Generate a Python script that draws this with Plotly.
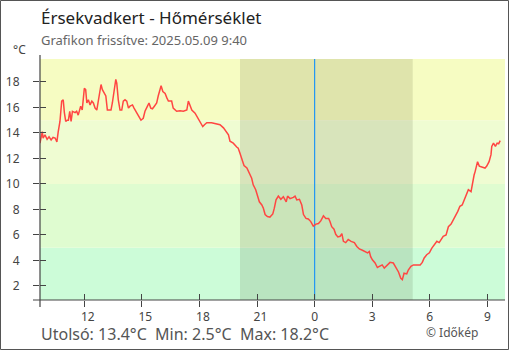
import plotly.graph_objects as go
from datetime import datetime, timedelta

# hours since 2025-05-08 00:00
hours = [9.69, 9.81, 9.85, 9.95, 10.06, 10.16, 10.27, 10.37, 10.48, 10.57, 10.64, 10.73, 10.82, 10.90, 10.96,
         11.03, 11.11, 11.17, 11.24, 11.31, 11.38, 11.52, 11.60, 11.68, 11.81, 11.89, 12.00, 12.07, 12.13,
         12.21, 12.30, 12.39, 12.47, 12.56, 12.65, 12.76, 12.87, 12.94, 13.03, 13.12, 13.20, 13.29, 13.39,
         13.46, 13.55, 13.64, 13.69, 13.77, 13.86, 13.95, 14.03, 14.12, 14.21, 14.30, 14.38, 14.51, 14.59,
         14.69, 14.81, 14.95, 15.07, 15.16, 15.29, 15.37, 15.46, 15.55, 15.65, 15.77, 15.85, 16.00, 16.09,
         16.21, 16.30, 16.38, 16.55, 16.63, 16.81, 16.99, 17.16, 17.34, 17.42, 17.51, 17.60, 17.77, 17.91,
         18.03, 18.17, 18.26, 18.38, 18.63, 18.90, 19.07, 19.25, 19.37, 19.51, 19.59, 19.76, 19.94, 20.02,
         20.11, 20.20, 20.32, 20.47, 20.60, 20.72, 20.80, 20.93, 21.04, 21.12, 21.25, 21.33, 21.42, 21.54,
         21.67, 21.82, 21.90, 21.99, 22.11, 22.24, 22.37, 22.52, 22.59, 22.72, 22.89, 22.98, 23.07, 23.21,
         23.33, 23.42, 23.55, 23.67, 23.80, 23.93, 24.07, 24.20, 24.32, 24.46, 24.58, 24.73, 24.80, 24.89,
         25.01, 25.10, 25.21, 25.33, 25.42, 25.50, 25.62, 25.75, 25.90, 26.07, 26.20, 26.33, 26.49, 26.62,
         26.76, 26.85, 26.92, 27.01, 27.15, 27.27, 27.41, 27.52, 27.63, 27.76, 27.93, 28.10, 28.23, 28.37,
         28.49, 28.57, 28.66, 28.80, 28.88, 29.02, 29.15, 29.50, 29.61, 29.71, 29.84, 29.98, 30.10, 30.24,
         30.37, 30.49, 30.58, 30.70, 30.85, 30.97, 31.11, 31.23, 31.37, 31.46, 31.57, 31.69, 31.80, 31.89,
         32.01, 32.15, 32.22, 32.31, 32.36, 32.42, 32.49, 32.58, 32.71, 32.88, 32.97, 33.09, 33.19, 33.23,
         33.32, 33.42, 33.51, 33.59, 33.67]
temps = [13.2, 14.1, 13.6, 13.85, 13.5, 13.7, 13.45, 13.65, 13.6, 13.3, 14.1, 14.9, 16.5, 16.6, 15.6,
         14.9, 15.0, 15.0, 15.7, 14.9, 15.7, 15.6, 15.7, 15.4, 16.1, 15.8, 17.5, 17.4, 16.35,
         16.6, 16.2, 16.5, 16.35, 15.95, 15.8, 16.9, 17.8, 17.4, 17.1, 16.9, 15.8, 15.8, 15.8,
         16.35, 17.4, 18.2, 17.9, 16.6, 15.8, 15.8, 16.5, 16.6, 16.5, 15.95, 16.1, 16.2, 15.95,
         15.7, 15.4, 15.0, 15.15, 15.7, 16.1, 16.35, 15.95, 15.9, 16.1, 16.35, 16.9, 17.7, 17.25,
         17.1, 16.75, 16.5, 16.5, 15.95, 15.7, 15.75, 15.7, 15.8, 16.5, 16.2, 15.8, 15.55, 15.2,
         14.9, 14.5, 14.65, 14.8, 14.8, 14.7, 14.65, 14.4, 14.1, 13.85, 13.35, 13.2, 12.9, 12.8,
         12.4, 11.9, 11.45, 11.25, 10.85, 10.45, 9.93, 9.55, 9.0, 8.6, 8.35, 8.1, 7.6, 7.45,
         7.4, 7.65, 8.1, 8.75, 9.05, 8.8, 9.0, 8.6, 9.05, 8.85, 8.95, 9.05, 8.75, 8.8,
         8.35, 7.6, 7.3, 7.25, 7.05, 6.7, 6.85, 6.9, 7.1, 7.5, 7.3, 7.3, 7.05, 6.65,
         6.45, 6.05, 5.85, 5.9, 6.1, 5.5, 5.4, 5.65, 5.5, 5.4, 5.1, 4.9, 4.8, 4.7,
         4.6, 4.7, 4.3, 4.05, 3.8, 3.45, 3.55, 3.65, 3.4, 3.6, 3.85, 3.8, 3.5, 3.1,
         2.6, 2.5, 3.0, 2.95, 3.25, 3.55, 3.65, 3.65, 3.85, 4.2, 4.45, 4.6, 4.95, 5.2,
         5.5, 5.4, 5.65, 5.9, 6.0, 6.65, 6.85, 7.25, 7.6, 7.85, 8.25, 8.35, 8.75, 9.15,
         9.55, 9.4, 10.05, 10.7, 10.95, 11.4, 11.75, 11.4, 11.35, 11.25, 11.4, 11.75, 12.3, 12.95,
         13.2, 12.95, 13.2, 13.15, 13.4]

band_edges = [-50, 5, 10, 15, 50]
band_colors = ["#ccfcd8", "#dffcd0", "#effcd2", "#f6fcc2"]
y_ticks = [2, 4, 6, 8, 10, 12, 14, 16, 18]
x_tick_hours = [12, 15, 18, 21, 24, 27, 30, 33]
x_tick_labels = ["\u200712", "\u200715", "\u200718", "\u200721", "0", "3", "6", "9"]
sunset_h, sunrise_h, midnight_h = 20.11, 29.11, 24.0
x_range_h = [9.69, 33.92]
y_range = [0.9, 19.8]

base = datetime(2025, 5, 8)
def t(h):
    return base + timedelta(hours=h)

W, H = 510, 350
L, R, T, B = 40, 5, 59, 50
PW, PH = W - L - R, H - T - B
def px(x):
    return (x - L) / PW
def py(y):
    return (H - B - y) / PH

font = "Noto Sans, Open Sans, DejaVu Sans, sans-serif"
fig = go.Figure()
fig.add_trace(go.Scatter(x=[t(h) for h in hours], y=temps, mode="lines",
                         line=dict(color="#ff4642", width=1.5), hoverinfo="skip", showlegend=False))
# invisible trace for overlay axes
fig.add_trace(go.Scatter(x=[t(h) for h in hours], y=temps, mode="lines", line=dict(width=0),
                         opacity=0, xaxis="x2", yaxis="y2", showlegend=False, hoverinfo="skip"))

shapes = []
for i, c in enumerate(band_colors):
    shapes.append(dict(type="rect", xref="paper", yref="y", x0=0, x1=1,
                       y0=max(band_edges[i], y_range[0]), y1=min(band_edges[i + 1], y_range[1]),
                       fillcolor=c, line=dict(width=0), layer="below"))
shapes.append(dict(type="rect", xref="x", yref="paper", x0=t(sunset_h), x1=t(sunrise_h), y0=0, y1=1,
                   fillcolor="rgba(40,40,0,0.11)", line=dict(width=0), layer="below"))
shapes.append(dict(type="line", xref="x", yref="paper", x0=t(midnight_h), x1=t(midnight_h), y0=0, y1=1,
                   line=dict(color="#2196f3", width=1.2), layer="below"))
# axis lines
shapes.append(dict(type="line", xref="paper", yref="paper", x0=0, x1=0, y0=py(307), y1=py(55),
                   line=dict(color="#444", width=1.2)))
shapes.append(dict(type="line", xref="paper", yref="paper", x0=px(33), x1=1, y0=0, y1=0,
                   line=dict(color="#444", width=1.2)))
# outer frame
shapes.append(dict(type="rect", xref="paper", yref="paper", x0=px(0.5), x1=px(508.5), y0=py(349.5), y1=py(0.5),
                   line=dict(color="#555", width=1), fillcolor="rgba(0,0,0,0)"))

axis_common = dict(showgrid=False, zeroline=False, showline=False, ticklen=6, tickwidth=1.2, tickcolor="#444")
fig.update_layout(
    width=W, height=H, margin=dict(l=L, r=R, t=T, b=B),
    paper_bgcolor="white", plot_bgcolor="white",
    font=dict(family=font, color="#444", size=12),
    shapes=shapes,
    xaxis=dict(range=[t(x_range_h[0]), t(x_range_h[1])], tickvals=[t(h) for h in x_tick_hours],
               ticktext=x_tick_labels, ticks="outside", tickfont=dict(size=12, color="#444"), **axis_common),
    yaxis=dict(range=y_range, tickvals=y_ticks, ticks="outside", ticklabelstandoff=11,
               tickfont=dict(size=12, color="#444"), **axis_common),
    xaxis2=dict(range=[t(x_range_h[0]), t(x_range_h[1])], tickvals=[t(h) for h in x_tick_hours],
                ticks="inside", showticklabels=False, overlaying="x", **axis_common),
    yaxis2=dict(range=y_range, tickvals=y_ticks, ticks="inside", showticklabels=False, overlaying="y",
                **axis_common),
    annotations=[
        dict(text="Érsekvadkert - Hőmérséklet", x=px(39), y=py(17.5), xref="paper", yref="paper",
             xanchor="left", yanchor="middle", showarrow=False, font=dict(size=17, color="#222")),
        dict(text="Grafikon frissítve: 2025.05.09 9:40", x=px(39), y=py(39.5), xref="paper", yref="paper",
             xanchor="left", yanchor="middle", showarrow=False, font=dict(size=13, color="#666")),
        dict(text="°C", x=px(11), y=py(50), xref="paper", yref="paper",
             xanchor="left", yanchor="middle", showarrow=False, font=dict(size=12, color="#444")),
        dict(text="Utolsó: 13.4°C  Min: 2.5°C  Max: 18.2°C", x=px(39), y=py(334), xref="paper", yref="paper",
             xanchor="left", yanchor="middle", showarrow=False, font=dict(size=16, color="#555")),
        dict(text="© Időkép", x=px(424), y=py(332), xref="paper", yref="paper",
             xanchor="left", yanchor="middle", showarrow=False, font=dict(size=12, color="#555")),
    ],
)
fig.write_html("out.html")
